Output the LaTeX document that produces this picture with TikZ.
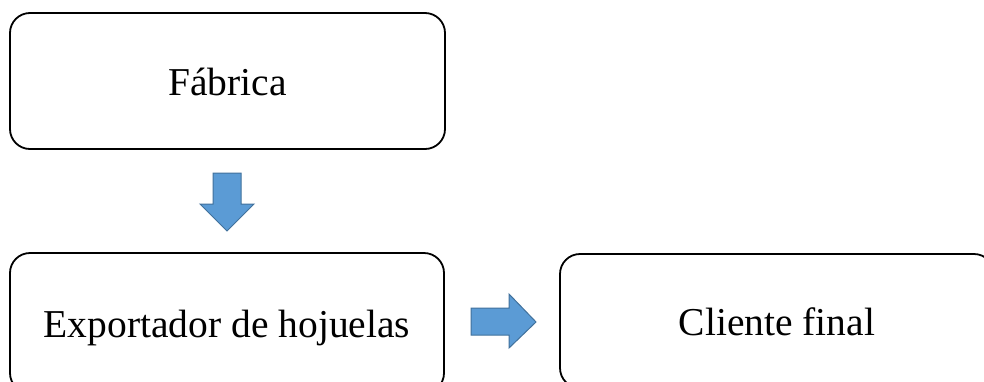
\documentclass[tikz,border=0pt]{standalone}
\usepackage{fontspec}
\setmainfont{Liberation Serif}
\definecolor{arrowfill}{HTML}{5B9BD5}
\definecolor{arrowline}{HTML}{41719C}
\begin{document}
\begin{tikzpicture}[x=1pt,y=-1pt,
  box/.style={draw=black, line width=1.8pt, rounded corners=20pt, fill=white,
    inner sep=0pt, text height=34pt, text depth=6pt,
    font=\fontsize{39.5}{48}\selectfont},
  blockarrow/.style={fill=arrowfill, draw=arrowline, line width=1pt, line join=miter}]
\useasboundingbox (0,0) rectangle (984,381);
\fill[white] (0,0) rectangle (984,381);
\node[box, minimum width=435pt, minimum height=136pt] (fab) at (227.5,81) {Fábrica};
\node[box, minimum width=434pt, minimum height=140pt] (exp) at (227,323) {Exportador de hojuelas};
\node[box, minimum width=434pt, minimum height=134pt] (cli) at (777,321) {Cliente final};
% down block arrow
\draw[blockarrow] (213,173) -- (241,173) -- (241,204) -- (254,204) -- (227,231)
  -- (200,204) -- (213,204) -- cycle;
% right block arrow
\draw[blockarrow] (471,308) -- (509,308) -- (509,294) -- (536,322) -- (509,348)
  -- (509,335) -- (471,335) -- cycle;
\end{tikzpicture}
\end{document}
